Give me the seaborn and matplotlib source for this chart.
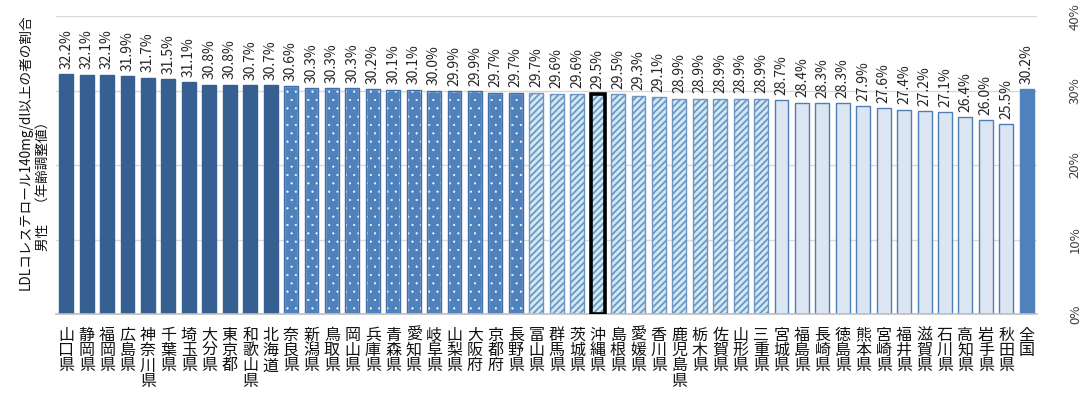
import numpy as np
import pandas as pd
import matplotlib
matplotlib.use('Agg')
import matplotlib.pyplot as plt
import seaborn as sns

# 都道府県ごとの値（男性・年齢調整値, %）
prefs = ['山口県', '静岡県', '福岡県', '広島県', '神奈川県', '千葉県', '埼玉県', '大分県',
         '東京都', '和歌山県', '北海道',
         '奈良県', '新潟県', '鳥取県', '岡山県', '兵庫県', '青森県', '愛知県', '岐阜県',
         '山梨県', '大阪府', '京都府', '長野県',
         '富山県', '群馬県', '茨城県', '沖縄県', '島根県', '愛媛県', '香川県', '鹿児島県',
         '栃木県', '佐賀県', '山形県', '三重県',
         '宮城県', '福島県', '長崎県', '徳島県', '熊本県', '宮崎県', '福井県', '滋賀県',
         '石川県', '高知県', '岩手県', '秋田県',
         '全国']
values = [32.2, 32.1, 32.1, 31.9, 31.7, 31.5, 31.1, 30.8, 30.8, 30.7, 30.7,
          30.6, 30.3, 30.3, 30.3, 30.2, 30.1, 30.1, 30.0, 29.9, 29.9, 29.7, 29.7,
          29.7, 29.6, 29.6, 29.5, 29.5, 29.3, 29.1, 28.9, 28.9, 28.9, 28.9, 28.9,
          28.7, 28.4, 28.3, 28.3, 27.9, 27.6, 27.4, 27.2, 27.1, 26.4, 26.0, 25.5,
          30.2]
groups = ['top'] * 11 + ['upper'] * 12 + ['lower'] * 12 + ['bottom'] * 12 + ['national']
highlight = '沖縄県'
yticks = [0, 10, 20, 30, 40]

sns.set_theme(style='white')
plt.rcParams['font.family'] = ['Noto Sans CJK JP', 'DejaVu Sans']
plt.rcParams['hatch.linewidth'] = 1.3

fill = {'top': '#376092', 'upper': '#4F81BD', 'lower': '#CFE9F5',
        'bottom': '#DCE6F2', 'national': '#4F81BD'}
edge = {'top': '#376092', 'upper': '#FFFFFF', 'lower': '#6F95C2',
        'bottom': '#4F7DB5', 'national': '#4F81BD'}
hatch = {'upper': '..', 'lower': '/////'}

df = pd.DataFrame({'pref': prefs, 'value': values, 'group': groups})

fig = plt.figure(figsize=(10.92, 3.94), dpi=100)
ax = fig.add_axes([0.0513, 0.203, 0.8983, 0.756])

sns.barplot(data=df, x='pref', y='value', hue='pref',
            palette=[fill[g] for g in groups], width=0.68, saturation=1,
            legend=False, ax=ax)

bars = list(ax.patches)
for p, g, name in zip(bars, groups, prefs):
    p.set_edgecolor(edge[g])
    p.set_linewidth(1.0)
    if g in hatch:
        p.set_hatch(hatch[g])
        if g == 'upper' and hasattr(p, 'set_hatch_linewidth'):
            p.set_hatch_linewidth(0.3)
    if g == 'upper':
        # 枠線だけ重ねる（点の色と枠の色が違うため）
        ax.bar(p.get_x() + p.get_width() / 2, p.get_height(), width=p.get_width(),
               fill=False, edgecolor='#3E6DA8', linewidth=1.0)
    if name == highlight:
        ax.bar(p.get_x() + p.get_width() / 2, p.get_height(), width=p.get_width(),
               fill=False, edgecolor='black', linewidth=2.6, zorder=5)

for p, v in zip(bars, values):
    ax.annotate(f'{v:.1f}%', (p.get_x() + p.get_width() / 2, p.get_height()),
                xytext=(0, 4), textcoords='offset points', rotation=90,
                ha='center', va='bottom', fontsize=10, color='#262626')

ax.set_xlim(-0.5, len(prefs) - 0.5)
ax.set_ylim(0, 40)
ax.set_yticks(yticks)
ax.yaxis.tick_right()
ax.set_yticklabels([f'{t}%' for t in yticks], rotation=90, va='center',
                   fontsize=9.5, color='#404040')
ax.tick_params(axis='y', length=0, pad=23)
ax.set_xticks(range(len(prefs)))
ax.set_xticklabels(['\n'.join(p) for p in prefs], fontsize=11.5,
                   linespacing=0.88, va='top', color='#111111')
ax.tick_params(axis='x', length=0, pad=9)
ax.set_xlabel('')
ax.set_ylabel('')
ax.yaxis.grid(True, color='#D9D9D9', linewidth=1)
ax.set_axisbelow(True)
for s in ['top', 'left', 'right']:
    ax.spines[s].set_visible(False)
ax.spines['bottom'].set_color('#BFBFBF')
ax.spines['bottom'].set_linewidth(1.2)

fig.text(0.023, 0.613, 'LDLコレステロール140mg/dl以上の者の割合', rotation=90,
         ha='center', va='center', fontsize=9.8, color='#111111')
fig.text(0.039, 0.536, '男性　（年齢調整値）', rotation=90,
         ha='center', va='center', fontsize=9.8, color='#111111')

fig.savefig('out.png', dpi=100)
